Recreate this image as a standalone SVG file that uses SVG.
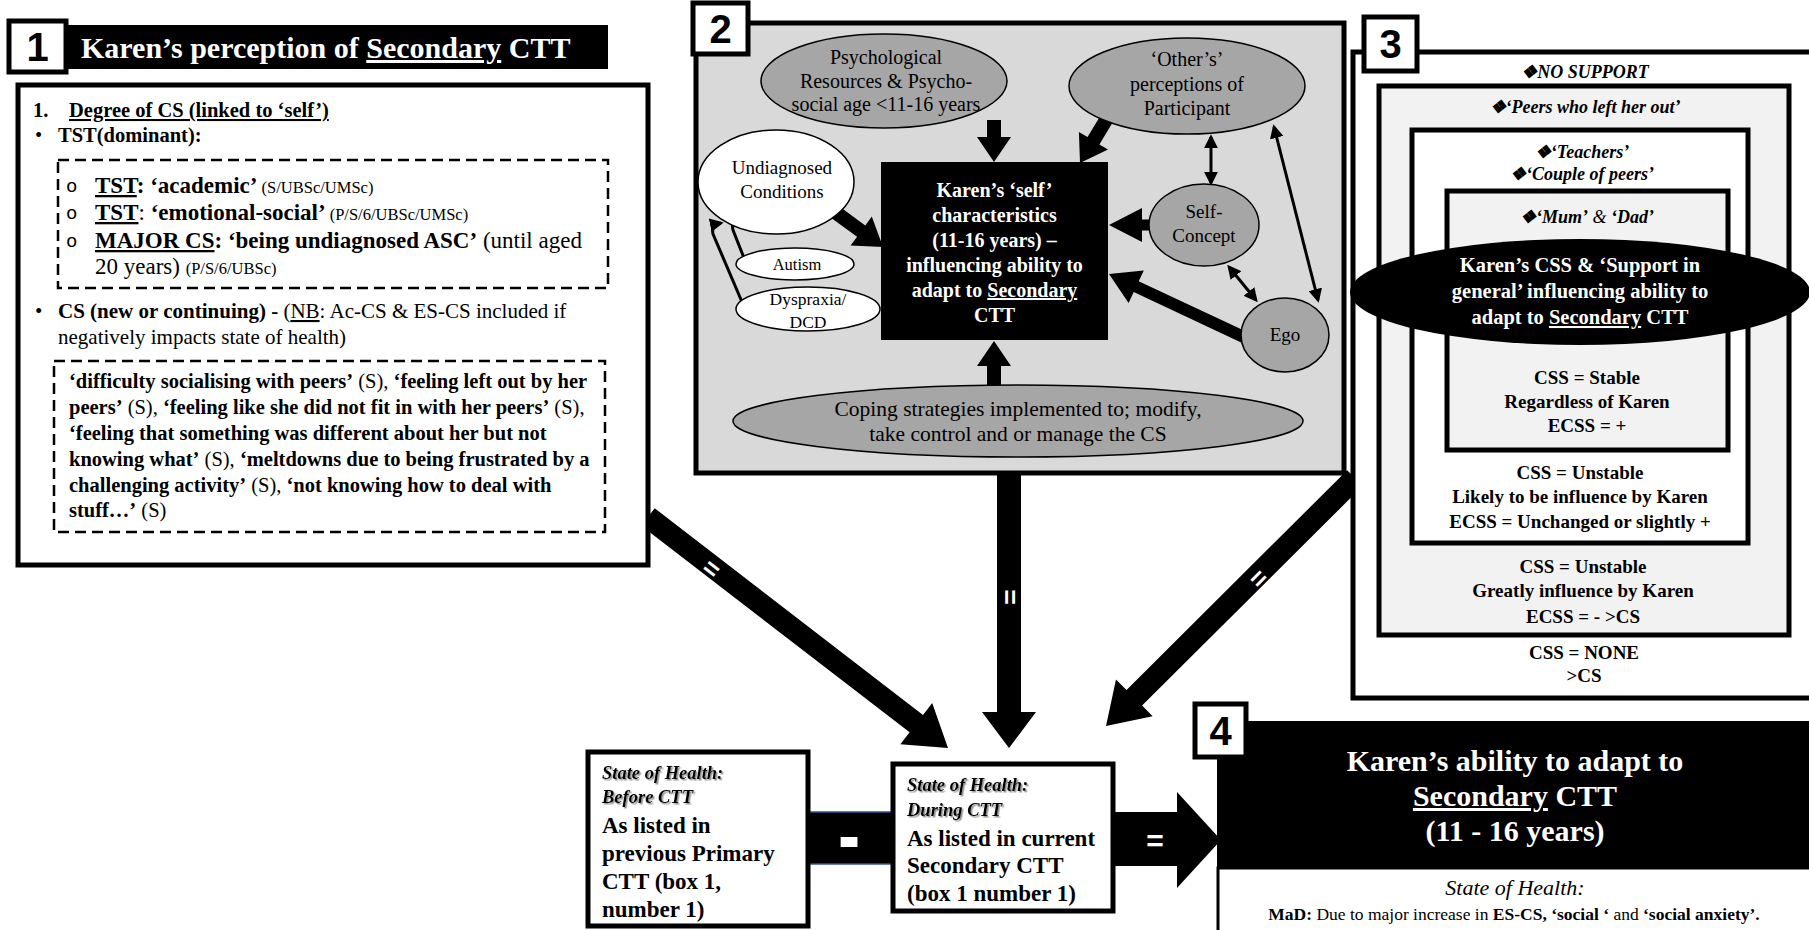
<svg xmlns="http://www.w3.org/2000/svg" width="1809" height="930" viewBox="0 0 1809 930">
<defs>
<style>
text{font-family:"Liberation Serif","Times New Roman",serif;fill:#000}
.b{font-weight:bold}
.i{font-style:italic}
.u{text-decoration:underline}
.w{fill:#fff}
.num{font-family:"Liberation Sans",Arial,sans-serif;font-weight:bold;font-size:40px}
.frame{stroke:#000;stroke-width:5}
.el{stroke:#000;stroke-width:1.5}
.grey{fill:#a6a6a6}
.white{fill:#fff}
.thin{stroke:#000;stroke-width:3;fill:none}
.lbl{font-family:"Liberation Sans",Arial,sans-serif;font-weight:bold;fill:#fff}
.dash{fill:none;stroke:#000;stroke-width:2.5;stroke-dasharray:11 6}
.bul{font-family:"Liberation Mono","Courier New",monospace;font-size:19px}
</style>
<marker id="ah" viewBox="0 0 10 10" refX="8" refY="5" markerWidth="4.6" markerHeight="4.6" orient="auto-start-reverse" markerUnits="strokeWidth">
<path d="M0,0 L10,5 L0,10 z" fill="#000"/>
</marker>
<filter id="sh" x="-10%" y="-40%" width="130%" height="180%">
<feDropShadow dx="1.5" dy="1.5" stdDeviation="0.7" flood-color="#777" flood-opacity="0.8"/>
</filter>
</defs>
<rect width="1809" height="930" fill="#fff"/>

<g id="box2">
<rect x="696" y="23" width="648" height="450" fill="#d9d9d9" class="frame"/>
<rect x="693" y="3" width="55" height="51" fill="#fff" class="frame"/>
<text x="720.5" y="43" class="num" text-anchor="middle">2</text>
</g>

<g id="connectors">
<polygon points="654.7,508.3 923.0,714.9 932.2,703.0 948,748 900.4,744.2 909.6,732.3 641.3,525.7"/>
<text class="lbl" font-size="26" text-anchor="middle" transform="translate(712,568) rotate(37.6)" y="9.5">=</text>
<polygon points="997,473 1021,473 1021,712 1036,712 1009,748 982,712 997,712"/>
<text class="lbl" font-size="26" text-anchor="middle" transform="translate(1010,597) rotate(90)" y="9.5">=</text>
<polygon points="1347.2,470.2 1126.5,690.0 1116.0,679.4 1106,726 1152.6,716.2 1142.1,705.6 1362.8,485.8"/>
<text class="lbl" font-size="26" text-anchor="middle" transform="translate(1258,578) rotate(-45)" y="9.5">=</text>
<rect x="806" y="812" width="89" height="52"/>
<line x1="806" y1="812" x2="893" y2="812" stroke="#2f5597" stroke-width="1.5"/>
<line x1="806" y1="864" x2="893" y2="864" stroke="#2f5597" stroke-width="1.5"/>
<text x="849" y="855" class="lbl" font-size="50" text-anchor="middle" stroke="#fff" stroke-width="4">-</text>
<polygon points="1113,812 1177,812 1177,792 1221,840 1177,888 1177,866 1113,866"/>
<text x="1155" y="851" class="lbl" font-size="30" text-anchor="middle">=</text>
<polygon points="987,120 1001,120 1001,137 1011,137 994,162 977,137 987,137"/>
<polygon points="1103.0,111.4 1087.5,137.1 1078.9,132.0 1080,163 1108.0,149.5 1099.4,144.4 1115.0,118.6"/>
<polygon points="839.1,206.3 865.3,225.4 871.8,216.6 883,247 850.6,245.6 857.1,236.8 830.9,217.7"/>
<polygon points="1160,219.5 1142,219.5 1142,208 1109,225 1142,242 1142,230.5 1160,230.5"/>
<polygon points="1252.5,334.6 1138.7,281.3 1143.8,270.4 1109,274 1128.6,303.0 1133.7,292.1 1247.5,345.4"/>
<polygon points="987,392 1001,392 1001,366 1011,366 994,341 977,366 987,366"/>
<line x1="1211" y1="137" x2="1211" y2="183" class="thin" marker-start="url(#ah)" marker-end="url(#ah)"/>
<line x1="1229" y1="267" x2="1256" y2="300" class="thin" marker-start="url(#ah)" marker-end="url(#ah)"/>
<line x1="1274" y1="127" x2="1318" y2="300" class="thin" marker-start="url(#ah)" marker-end="url(#ah)"/>
<path d="M744,258 L733,230 Q731,222 741,220" class="thin" marker-end="url(#ah)"/>
<path d="M742,302 L713,234 Q711,225 721,223" class="thin" marker-end="url(#ah)"/>
</g>

<g id="box1">
<rect x="18" y="85" width="630" height="480" fill="#fff" class="frame"/>
<rect x="62" y="25" width="546" height="44" fill="#000"/>
<rect x="9" y="21" width="57" height="51" fill="#fff" class="frame"/>
<text x="37.5" y="61" class="num" text-anchor="middle">1</text>
<text x="81" y="58" class="b w" font-size="30">Karen’s perception of <tspan class="u">Secondary</tspan> CTT</text>
<text y="117" class="b" font-size="20.5"><tspan x="33">1.</tspan><tspan x="69" class="u">Degree of CS (linked to ‘self’)</tspan></text>
<text y="142" font-size="20.5"><tspan x="35">•</tspan><tspan x="58" class="b">TST(dominant):</tspan></text>
<rect x="58" y="160" width="550" height="128" class="dash"/>
<text x="66" y="192" class="bul">o</text>
<text x="66" y="219" class="bul">o</text>
<text x="66" y="247" class="bul">o</text>
<text y="193" font-size="23"><tspan x="95" class="b u">TST</tspan><tspan class="b">: ‘academic’ </tspan><tspan font-size="16.5">(S/UBSc/UMSc)</tspan></text>
<text y="220" font-size="23"><tspan x="95" class="b u">TST</tspan>: <tspan class="b">‘emotional-social’ </tspan><tspan font-size="16.5">(P/S/6/UBSc/UMSc)</tspan></text>
<text y="248" font-size="23"><tspan x="95" class="b u">MAJOR CS</tspan><tspan class="b">: ‘being undiagnosed ASC’</tspan> (until aged</text>
<text y="274" x="95" font-size="23">20 years) <tspan font-size="16.5">(P/S/6/UBSc)</tspan></text>
<text y="318" font-size="21"><tspan x="35">•</tspan><tspan x="58" class="b">CS (new or continuing) - </tspan>(<tspan class="u">NB</tspan>: Ac-CS &amp; ES-CS included if</text>
<text y="344" x="58" font-size="21">negatively impacts state of health)</text>
<rect x="54" y="361" width="551" height="171" class="dash"/>
<text font-size="20.5">
<tspan x="69" y="388"><tspan class="b">‘difficulty socialising with peers’</tspan> (S), <tspan class="b">‘feeling left out by her</tspan></tspan>
<tspan x="69" y="414"><tspan class="b">peers’</tspan> (S), <tspan class="b">‘feeling like she did not fit in with her peers’</tspan> (S),</tspan>
<tspan x="69" y="440" class="b">‘feeling that something was different about her but not</tspan>
<tspan x="69" y="466"><tspan class="b">knowing what’</tspan> (S), <tspan class="b">‘meltdowns due to being frustrated by a</tspan></tspan>
<tspan x="69" y="492"><tspan class="b">challenging activity’</tspan> (S), <tspan class="b">‘not knowing how to deal with</tspan></tspan>
<tspan x="69" y="517"><tspan class="b">stuff…’</tspan> (S)</tspan>
</text>
</g>

<g id="psych">
<ellipse cx="884" cy="81" rx="123" ry="47" class="grey el"/>
<text font-size="20" text-anchor="middle"><tspan x="886" y="64">Psychological</tspan><tspan x="886" y="88">Resources &amp; Psycho-</tspan><tspan x="886" y="111">social age &lt;11-16 years</tspan></text>
</g>
<g id="others">
<ellipse cx="1187" cy="86" rx="118" ry="48" class="grey el"/>
<text font-size="20" text-anchor="middle"><tspan x="1187" y="66">‘Other’s’</tspan><tspan x="1187" y="91">perceptions of</tspan><tspan x="1187" y="115">Participant</tspan></text>
</g>
<g id="undiagnosed">
<ellipse cx="776" cy="182" rx="78" ry="52" class="white el"/>
<text font-size="19" text-anchor="middle"><tspan x="782" y="174">Undiagnosed</tspan><tspan x="782" y="198">Conditions</tspan></text>
</g>
<g id="autism">
<ellipse cx="795" cy="264" rx="59" ry="16" class="white el"/>
<text x="797" y="270" font-size="16.5" text-anchor="middle">Autism</text>
</g>
<g id="dyspraxia">
<ellipse cx="808" cy="309" rx="72" ry="22" class="white el"/>
<text font-size="17.5" text-anchor="middle"><tspan x="808" y="305">Dyspraxia/</tspan><tspan x="808" y="328">DCD</tspan></text>
</g>
<g id="self">
<rect x="881" y="162" width="227" height="178" fill="#000"/>
<text class="b w" font-size="20" text-anchor="middle"><tspan x="994.5" y="197">Karen’s ‘self’</tspan><tspan x="994.5" y="222">characteristics</tspan><tspan x="994.5" y="247">(11-16 years) –</tspan><tspan x="994.5" y="272">influencing ability  to</tspan><tspan x="994.5" y="297">adapt to <tspan class="u">Secondary</tspan></tspan><tspan x="994.5" y="322">CTT</tspan></text>
</g>
<g id="selfconcept">
<ellipse cx="1204" cy="225" rx="55" ry="41" class="grey el"/>
<text font-size="19" text-anchor="middle"><tspan x="1204" y="218">Self-</tspan><tspan x="1204" y="242">Concept</tspan></text>
</g>
<g id="ego">
<ellipse cx="1285" cy="335" rx="44" ry="37" class="grey el"/>
<text x="1285" y="341" font-size="19" text-anchor="middle">Ego</text>
</g>
<g id="coping">
<ellipse cx="1018" cy="421" rx="285" ry="36" class="grey el"/>
<text font-size="21.5" text-anchor="middle"><tspan x="1018" y="416">Coping strategies implemented to; modify,</tspan><tspan x="1018" y="441">take control and or manage the CS</tspan></text>
</g>

<g id="box3">
<rect x="1353" y="52" width="470" height="646" fill="#fff" class="frame"/>
<rect x="1364" y="17" width="53" height="54" fill="#fff" class="frame"/>
<text x="1390.5" y="58" class="num" text-anchor="middle">3</text>
<text x="1585" y="78" class="b i" font-size="18" text-anchor="middle">❖NO SUPPORT</text>
<rect x="1379" y="86" width="410" height="549" fill="#f2f2f2" class="frame"/>
<text x="1585" y="113" class="b i" font-size="18" text-anchor="middle">❖‘Peers who left her out’</text>
<rect x="1412" y="130" width="336" height="413" fill="#fff" class="frame"/>
<text class="b i" font-size="18" text-anchor="middle"><tspan x="1582" y="158">❖‘Teachers’</tspan><tspan x="1582" y="180">❖‘Couple of peers’</tspan></text>
<rect x="1447" y="191" width="281" height="259" fill="#f2f2f2" class="frame"/>
<text x="1587" y="223" class="i" font-size="18" text-anchor="middle"><tspan class="b">❖‘Mum’</tspan> &amp; <tspan class="b">‘Dad’</tspan></text>
<text class="b" font-size="19" text-anchor="middle"><tspan x="1587" y="384">CSS = Stable</tspan><tspan x="1587" y="408">Regardless of Karen</tspan><tspan x="1587" y="432">ECSS = +</tspan></text>
<text class="b" font-size="19" text-anchor="middle"><tspan x="1580" y="479">CSS = Unstable</tspan><tspan x="1580" y="503">Likely to be influence by Karen</tspan><tspan x="1580" y="528">ECSS = Unchanged or slightly +</tspan></text>
<text class="b" font-size="19" text-anchor="middle"><tspan x="1583" y="573">CSS = Unstable</tspan><tspan x="1583" y="597">Greatly influence by Karen</tspan><tspan x="1583" y="623">ECSS = - &gt;CS</tspan></text>
<text class="b" font-size="19" text-anchor="middle"><tspan x="1584" y="659">CSS = NONE</tspan><tspan x="1584" y="682">&gt;CS</tspan></text>
</g>
<g id="css">
<ellipse cx="1580" cy="292" rx="230" ry="53" fill="#000"/>
<text class="b w" font-size="20.5" text-anchor="middle"><tspan x="1580" y="272">Karen’s CSS &amp;  ‘Support in</tspan><tspan x="1580" y="298">general’ influencing ability  to</tspan><tspan x="1580" y="324">adapt to <tspan class="u">Secondary</tspan> CTT</tspan></text>
</g>

<g id="before">
<rect x="588" y="752" width="220" height="174" fill="#fff" class="frame"/>
<text class="b i" font-size="18.5" filter="url(#sh)"><tspan x="602" y="779">State of Health:</tspan><tspan x="602" y="803">Before CTT</tspan></text>
<text class="b" font-size="23"><tspan x="602" y="833">As listed in</tspan><tspan x="602" y="861">previous Primary</tspan><tspan x="602" y="889">CTT  (box 1,</tspan><tspan x="602" y="917">number 1)</tspan></text>
</g>
<g id="during">
<rect x="893" y="764" width="220" height="147" fill="#fff" class="frame"/>
<text class="b i" font-size="18.5" filter="url(#sh)"><tspan x="907" y="791">State of Health:</tspan><tspan x="907" y="816">During CTT</tspan></text>
<text class="b" font-size="23"><tspan x="907" y="846">As listed in current</tspan><tspan x="907" y="873">Secondary CTT</tspan><tspan x="907" y="901">(box 1 number 1)</tspan></text>
</g>
<g id="box4">
<rect x="1217" y="721" width="600" height="147" fill="#000"/>
<rect x="1218" y="868" width="600" height="70" fill="#fff" stroke="#000" stroke-width="3"/>
<rect x="1195" y="704" width="51" height="53" fill="#fff" class="frame"/>
<text x="1220.5" y="745" class="num" text-anchor="middle">4</text>
<text class="b w" font-size="30" text-anchor="middle"><tspan x="1515" y="771">Karen’s ability to adapt to</tspan><tspan x="1515" y="806"><tspan class="u">Secondary</tspan> CTT</tspan><tspan x="1515" y="841">(11 - 16 years)</tspan></text>
<text x="1515" y="895" class="i" font-size="22" text-anchor="middle">State of Health:</text>
<text x="1514" y="920" font-size="17.5" text-anchor="middle"><tspan class="b">MaD:</tspan> Due to major increase in <tspan class="b">ES-CS, ‘social ‘</tspan> and <tspan class="b">‘social anxiety’.</tspan></text>
</g>
</svg>
